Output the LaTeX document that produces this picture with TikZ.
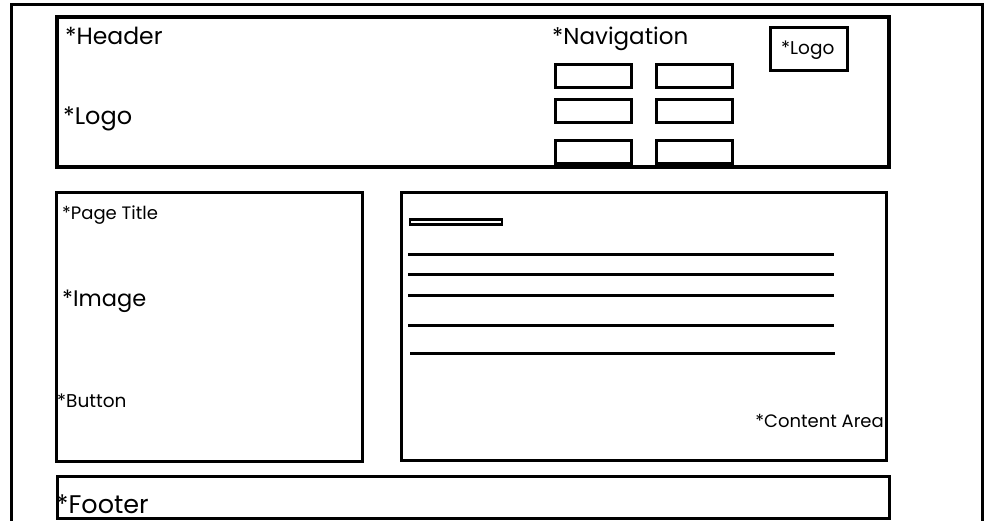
\documentclass[tikz,border=0pt]{standalone}
\usepackage{fontspec}
\setmainfont{Poppins}[Ligatures=NoCommon]
\usepackage{tikz}
\usetikzlibrary{positioning}
\tikzset{
  frame/.style={line width=3pt},
  panel/.style={line width=3pt},
  navbtn/.style={line width=3pt},
  textline/.style={line width=3pt},
  lbl/.style={anchor=base west,inner sep=0pt}
}
\newcommand{\fs}[1]{\fontsize{#1}{#1}\selectfont}

\begin{document}
\begin{tikzpicture}[x=1pt,y=-1pt]
  \useasboundingbox (0,0) rectangle (994,521);
  % page frame
  \draw[frame] (11,530) -- (11,5) -- (982,5) -- (982,530);
  % header
  \draw[panel,line width=3.5pt] (57,17) rectangle (889,167);
  \node[lbl] (nheader) at (65,45) {\fs{23.5}*Header};
  \node[lbl] (nlogo) at (63,125) {\fs{24}*Logo};
  \node[lbl] (nnav) at (552,45) {\fs{23}*Navigation};
  \foreach \x in {555,656}{ \foreach \y in {65,100,141}{
      \draw[navbtn] (\x,\y) rectangle ++(76,23);%
    } }
  % small logo
  \draw[panel] (770,28) rectangle (847,71);
  \node[lbl] (nlogosm) at (781,55) {\fs{18.5}*Logo};
  % left column
  \draw[panel] (56,193) rectangle (362,461);
  \node[lbl] (ntitle) at (62,220) {\fs{18}*Page Title};
  \node[lbl] (nimage) at (62,307) {\fs{22.5}*Image};
  \node[lbl] (nbutton) at (57,407) {\fs{18.5}*Button};
  % content area
  \draw[panel] (401,193) rectangle (886,460);
  \draw[line width=2.2pt] (410,219.5) rectangle (502,224.5);
  \foreach \y in {255,275,296,326}{ \draw[textline] (408,\y) -- (834,\y);%
  }
  \draw[textline] (410,354) -- (835,354);% last line
  \node[lbl,anchor=base east] (ncontent) at (884,428) {\fs{18}*Content Area};
  % footer
  \draw[panel] (57,476) rectangle (889,518);
  \node[lbl] (nfooter) at (56,513) {\fs{25.5}*Footer};
\end{tikzpicture}
\end{document}
